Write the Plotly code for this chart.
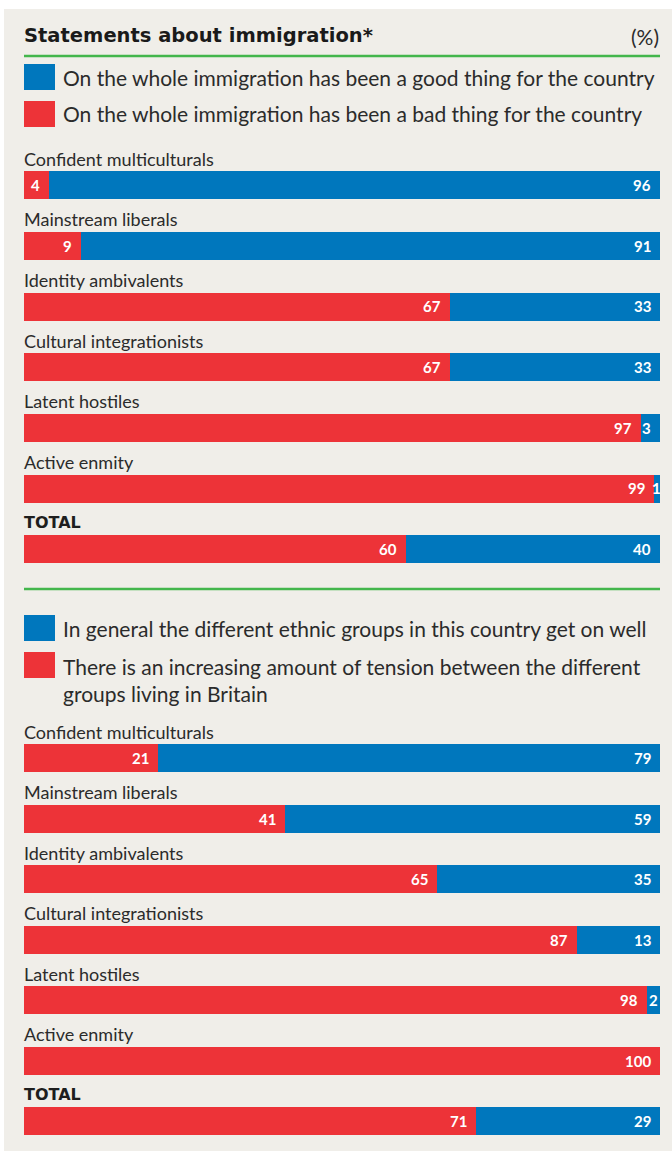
import plotly.graph_objects as go

# ---- data -------------------------------------------------------------
groups = [
    "Confident multiculturals",
    "Mainstream liberals",
    "Identity ambivalents",
    "Cultural integrationists",
    "Latent hostiles",
    "Active enmity",
    "TOTAL",
]

# Section 1: immigration good / bad
imm_bad = [4, 9, 67, 67, 97, 99, 60]
imm_good = [96, 91, 33, 33, 3, 1, 40]

# Section 2: ethnic groups get on well / increasing tension
eth_tension = [21, 41, 65, 87, 98, 100, 71]
eth_well = [79, 59, 35, 13, 2, 0, 29]

title_text = "Statements about immigration*"
unit_text = "(%)"
legend1 = [
    "On the whole immigration has been a good thing for the country",
    "On the whole immigration has been a bad thing for the country",
]
legend2 = [
    "In general the different ethnic groups in this country get on well",
    "There is an increasing amount of tension between the different<br>groups living in Britain",
]

# ---- style ------------------------------------------------------------
W, H = 672, 1151
ML, MR = 24, 12
RED = "#ED3338"
BLUE = "#0077BD"
BEIGE = "#F0EEE9"
GREEN = "#43B64C"
INK = "#2B2B2B"
FONT = "Lato"
HEAVY = "DejaVu Sans"

PLOT_W = W - ML - MR


def py(px):
    """pixel row -> paper y"""
    return 1 - px / H


def pxx(px):
    """pixel column -> paper x"""
    return (px - ML) / PLOT_W


fig = go.Figure()

sections = [
    dict(xa="x", ya="y", red=imm_bad, blue=imm_good, c0=185, step=60.67),
    dict(xa="x2", ya="y2", red=eth_tension, blue=eth_well, c0=758, step=60.5),
]

annotations = []
for s in sections:
    fig.add_trace(go.Bar(
        y=groups, x=s["red"], orientation="h", marker_color=RED,
        marker_line_width=0, width=28 / s["step"], xaxis=s["xa"], yaxis=s["ya"],
        showlegend=False, hoverinfo="skip",
    ))
    fig.add_trace(go.Bar(
        y=groups, x=s["blue"], orientation="h", marker_color=BLUE,
        marker_line_width=0, width=28 / s["step"], xaxis=s["xa"], yaxis=s["ya"],
        showlegend=False, hoverinfo="skip",
    ))

    for g, r, b in zip(groups, s["red"], s["blue"]):
        # group label above each bar
        is_total = g == "TOTAL"
        annotations.append(dict(
            x=0, y=g, xref=s["xa"], yref=s["ya"], text=g, showarrow=False,
            xanchor="left", yanchor="middle", yshift=26.5, xshift=-2,
            font=dict(family=HEAVY if is_total else FONT,
                      size=16 if is_total else 18,
                      color="#1E1E1E" if is_total else INK,
                      weight=700 if is_total else 400),
        ))
        # value labels inside each segment
        for start, val in ((0, r), (r, b)):
            if val <= 0:
                continue
            if val < 3:
                ax, anchor, shift = start + val / 2, "center", 0
            else:
                ax, anchor, shift = start + val, "right", -7
            annotations.append(dict(
                x=ax, y=g, xref=s["xa"], yref=s["ya"], text=str(val),
                showarrow=False, xanchor=anchor, yanchor="middle",
                xshift=shift, yshift=0,
                font=dict(family=FONT, size=15, color="white", weight=700),
            ))


def axis_layout(c0, step, top_px, bottom_px):
    return dict(
        domain=[py(bottom_px), py(top_px)],
        range=[(bottom_px - c0) / step, (top_px - c0) / step],
        type="category", categoryorder="array", categoryarray=groups,
        showticklabels=False, showgrid=False, zeroline=False, fixedrange=True,
    )


xcommon = dict(range=[0, 100], showticklabels=False, showgrid=False,
               zeroline=False, fixedrange=True, domain=[0, 1])

shapes = [
    # panel background
    dict(type="rect", xref="paper", yref="paper", x0=pxx(4), x1=pxx(W),
         y0=py(H), y1=py(9), fillcolor=BEIGE, line_width=0, layer="below"),
    # green rules
    dict(type="line", xref="paper", yref="paper", x0=0, x1=1,
         y0=py(56), y1=py(56), line=dict(color=GREEN, width=2.6)),
    dict(type="line", xref="paper", yref="paper", x0=0, x1=1,
         y0=py(589), y1=py(589), line=dict(color=GREEN, width=2.6)),
]


def legend_key(top, bottom, color):
    shapes.append(dict(type="rect", xref="paper", yref="paper",
                       x0=pxx(24), x1=pxx(55), y0=py(bottom), y1=py(top),
                       fillcolor=color, line_width=0))


def legend_text(text, y_px, yanchor="middle"):
    annotations.append(dict(
        x=pxx(61), y=py(y_px), xref="paper", yref="paper", text=text,
        showarrow=False, xanchor="left", yanchor=yanchor, align="left",
        font=dict(family=FONT, size=21, color=INK),
    ))


legend_key(64, 90, BLUE)
legend_key(101, 127, RED)
legend_text(legend1[0], 77)
legend_text(legend1[1], 114)

legend_key(615, 641, BLUE)
legend_key(652, 678, RED)
legend_text(legend2[0], 628)
legend_text(legend2[1], 652, yanchor="top")

annotations.append(dict(
    x=pxx(22), y=py(36), xref="paper", yref="paper", text=title_text,
    showarrow=False, xanchor="left", yanchor="middle",
    font=dict(family=HEAVY, size=19.5, color="#1A1A1A", weight=700),
))
annotations.append(dict(
    x=1, y=py(37), xref="paper", yref="paper", text=unit_text,
    showarrow=False, xanchor="right", yanchor="middle", xshift=1,
    font=dict(family=FONT, size=21, color=INK),
))

fig.update_layout(
    width=W, height=H,
    margin=dict(l=ML, r=MR, t=0, b=0, pad=0),
    paper_bgcolor="white", plot_bgcolor="rgba(0,0,0,0)",
    barmode="stack", bargap=0,
    xaxis=dict(**xcommon, anchor="y"),
    xaxis2=dict(**xcommon, anchor="y2"),
    yaxis=axis_layout(185, 60.67, 154.67, 579.3),
    yaxis2=axis_layout(758, 60.5, 727.75, 1151),
    shapes=shapes, annotations=annotations,
    showlegend=False,
)

fig.write_html("out.html")
